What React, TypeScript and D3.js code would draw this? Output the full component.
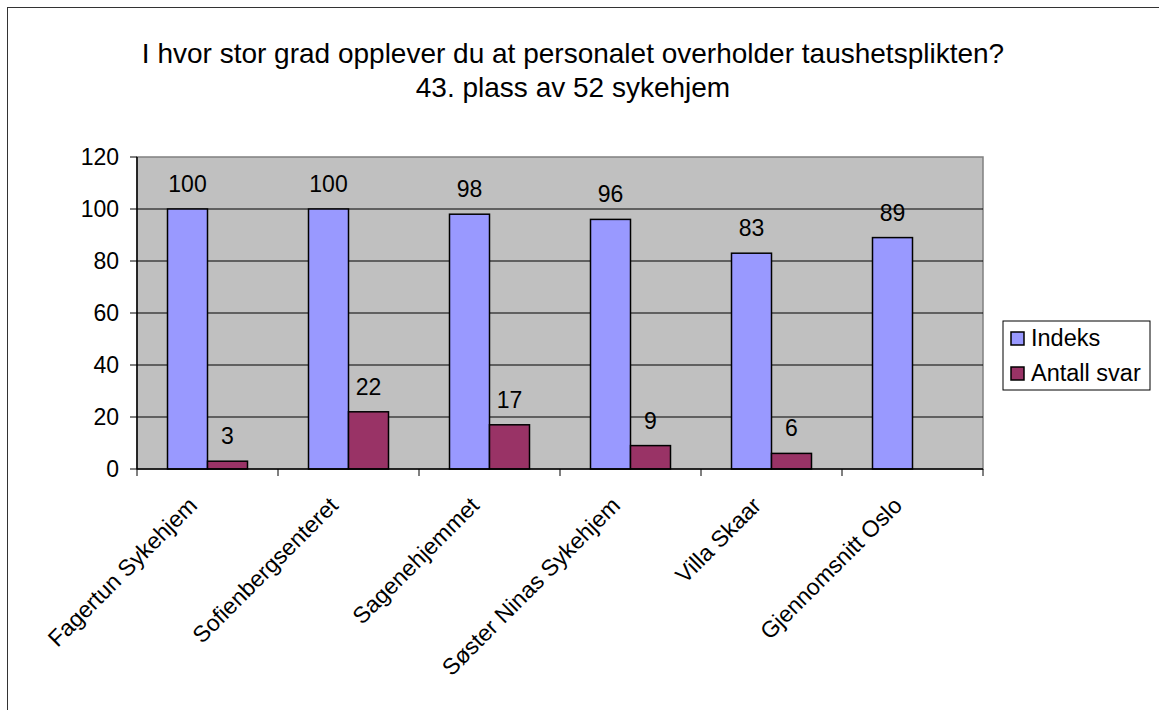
import React from "react";
import * as d3 from "d3";

const categories = [
  "Fagertun Sykehjem",
  "Sofienbergsenteret",
  "Sagenehjemmet",
  "Søster Ninas Sykehjem",
  "Villa Skaar",
  "Gjennomsnitt Oslo",
];
const indeks: (number | null)[] = [100, 100, 98, 96, 83, 89];
const antallSvar: (number | null)[] = [3, 22, 17, 9, 6, null];
const seriesNames = ["Indeks", "Antall svar"];
const seriesColors = ["#9999FF", "#993366"];
const yTicks = [0, 20, 40, 60, 80, 100, 120];
const titleLines = [
  "I hvor stor grad opplever du at personalet overholder taushetsplikten?",
  "43. plass av 52 sykehjem",
];

const FONT = "'Liberation Sans', Arial, Helvetica, sans-serif";

export default function App() {
  const W = 1159;
  const H = 710;
  const plot = { left: 137, right: 983, top: 157, bottom: 469 };

  const x = d3
    .scaleBand<string>()
    .domain(categories)
    .range([plot.left, plot.right])
    .paddingInner(0)
    .paddingOuter(0);
  const band = x.bandwidth();
  const barW = band * (40 / 141);
  const xs = d3
    .scaleBand<string>()
    .domain(seriesNames)
    .range([0, barW * 2])
    .padding(0);
  const groupOffset = (band - barW * 2) / 2;
  const y = d3.scaleLinear().domain([0, 120]).range([plot.bottom, plot.top]);

  const series = [indeks, antallSvar];
  const boundaries = d3.range(categories.length + 1).map((i) => plot.left + i * band);

  return (
    <svg
      width={W}
      height={H}
      style={{ position: "absolute", left: 0, top: 0, background: "#fff" }}
      fontFamily={FONT}
    >
      <rect x={0} y={0} width={W} height={H} fill="#fff" />
      {/* outer chart frame */}
      <rect x={7.5} y={7.5} width={W + 20} height={H + 20} fill="none" stroke="#333" strokeWidth={1} />

      {/* title */}
      {titleLines.map((t, i) => (
        <text key={i} x={573} y={63 + i * 33.5} textAnchor="middle" fontSize={28} fill="#000">
          {t}
        </text>
      ))}

      {/* plot area */}
      <rect
        x={plot.left}
        y={plot.top}
        width={plot.right - plot.left}
        height={plot.bottom - plot.top}
        fill="#C0C0C0"
        stroke="#808080"
        strokeWidth={1.5}
      />
      {/* gridlines */}
      {yTicks
        .filter((t) => t > 0 && t < 120)
        .map((t) => (
          <line key={t} x1={plot.left} x2={plot.right} y1={y(t)} y2={y(t)} stroke="#000" strokeWidth={1} />
        ))}

      {/* bars */}
      {series.map((vals, si) =>
        vals.map((v, ci) => {
          if (v === null) return null;
          const bx = (x(categories[ci]) as number) + groupOffset + (xs(seriesNames[si]) as number);
          return (
            <rect
              key={`${si}-${ci}`}
              x={bx}
              y={y(v)}
              width={barW}
              height={y(0) - y(v)}
              fill={seriesColors[si]}
              stroke="#000"
              strokeWidth={1.5}
            />
          );
        })
      )}

      {/* data labels */}
      {series.map((vals, si) =>
        vals.map((v, ci) => {
          if (v === null) return null;
          const bx = (x(categories[ci]) as number) + groupOffset + (xs(seriesNames[si]) as number);
          return (
            <text
              key={`l${si}-${ci}`}
              x={bx + barW / 2}
              y={y(v) - 17}
              textAnchor="middle"
              fontSize={23}
              fill="#000"
            >
              {v}
            </text>
          );
        })
      )}

      {/* y axis */}
      <line x1={plot.left} x2={plot.left} y1={plot.top} y2={plot.bottom} stroke="#000" strokeWidth={1.5} />
      {yTicks.map((t) => (
        <g key={t}>
          <line x1={plot.left - 7} x2={plot.left} y1={y(t)} y2={y(t)} stroke="#000" strokeWidth={1} />
          <text x={plot.left - 18} y={y(t)} dy="0.35em" textAnchor="end" fontSize={23} fill="#000">
            {t}
          </text>
        </g>
      ))}

      {/* x axis */}
      <line x1={plot.left} x2={plot.right} y1={plot.bottom} y2={plot.bottom} stroke="#000" strokeWidth={1.5} />
      {boundaries.map((bx, i) => (
        <line key={i} x1={bx} x2={bx} y1={plot.bottom} y2={plot.bottom + 7} stroke="#000" strokeWidth={1} />
      ))}
      {categories.map((c) => {
        const cx = (x(c) as number) + band / 2;
        return (
          <text
            key={c}
            transform={`translate(${cx - 9},${plot.bottom + 38}) rotate(-45)`}
            textAnchor="end"
            fontSize={23}
            fill="#000"
          >
            {c}
          </text>
        );
      })}

      {/* legend */}
      <rect x={1003} y={321} width={147} height={69} fill="#fff" stroke="#000" strokeWidth={1} />
      {seriesNames.map((n, i) => (
        <g key={n}>
          <rect x={1011} y={332 + i * 35} width={13} height={13} fill={seriesColors[i]} stroke="#000" strokeWidth={1.5} />
          <text x={1031} y={346 + i * 35} fontSize={23.5} fill="#000">
            {n}
          </text>
        </g>
      ))}
    </svg>
  );
}
